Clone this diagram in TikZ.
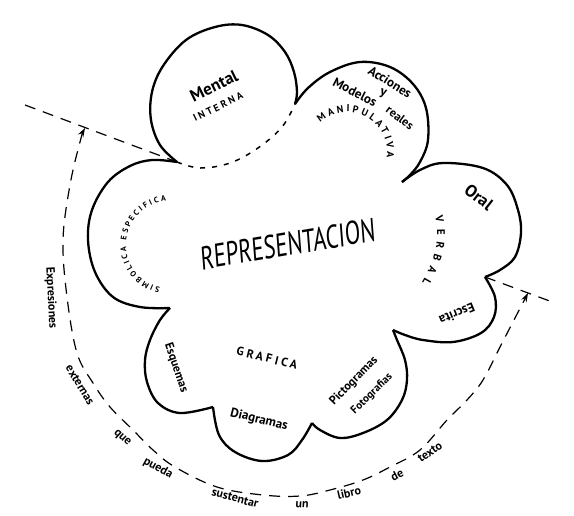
\documentclass[tikz,border=0pt]{standalone}
\usepackage{fontspec}
\setmainfont{PT Sans}
\usetikzlibrary{arrows.meta,decorations.text}
\begin{document}
\begin{tikzpicture}[x=1pt,y=-1pt,
    cloud/.style={line width=2.3pt,line join=round},
    hidden/.style={line width=1.5pt,dash pattern=on 5pt off 7pt},
    guide/.style={line width=1.2pt,dash pattern=on 11pt off 8pt},
    word/.style={inner sep=0pt,font=\fontsize{#1}{#1}\selectfont\bfseries},
    word/.default=13,
    caps/.style={inner sep=0pt,font=\fontsize{#1}{#1}\selectfont\bfseries\addfontfeature{LetterSpace=25}},
    bent/.style={decorate,decoration={text along path,text align={fit to path},text={#1}}}]
  \useasboundingbox (0,0) rectangle (574,515);
  \coordinate (c1) at (177,162);
  \coordinate (c2) at (295,104);
  \coordinate (c3) at (402,182);
  \coordinate (c4) at (485,277);
  \coordinate (c5) at (393,330);
  \coordinate (c6) at (312,423);
  \coordinate (c7) at (213,407);
  \coordinate (c8) at (170,308);
  \coordinate (endL) at (25,105);
  \coordinate (endR) at (555,303);
  \coordinate (tipL) at (85,128);
  \coordinate (tipR) at (528,293);
  \begin{scope}[cloud]
    \draw plot[smooth,tension=0.6] coordinates {(c1) (160,145) (151,120) (152,92) (163,66) (186,40) (215,27) (242,25) (268,35) (285,52) (294,72) (297,92) (c2)};
    \draw plot[smooth,tension=0.6] coordinates {(c2) (308,88) (330,72) (360,62) (390,67) (413,84) (426,108) (428,140) (420,162) (410,175) (c3)};
    \draw plot[smooth,tension=0.6] coordinates {(c3) (420,170) (443,163) (483,168) (507,185) (518,210) (521,233) (515,257) (500,270) (c4)};
    \draw plot[smooth,tension=0.6] coordinates {(c4) (495,297) (494,317) (481,333) (453,342) (423,340) (405,335) (c5)};
    \draw plot[smooth,tension=0.6] coordinates {(c5) (397,340) (405,360) (407,380) (402,400) (387,420) (363,433) (340,438) (320,430) (c6)};
    \draw plot[smooth,tension=0.6] coordinates {(c6) (302,440) (288,455) (262,461) (235,452) (219,435) (c7)};
    \draw plot[smooth,tension=0.6] coordinates {(c7) (180,413) (158,403) (147,382) (145,360) (150,340) (160,320) (c8)};
    \draw plot[smooth,tension=0.6] coordinates {(c8) (140,307) (113,297) (95,272) (88,240) (92,210) (108,182) (130,166) (152,160) (c1)};
  \end{scope}
  \draw[hidden] plot[smooth,tension=0.6] coordinates {(c1) (200,168) (230,163) (258,148) (282,127) (c2)};
  \draw[guide] (endL) -- (c1);
  \draw[guide] (c4) -- (endR);
  \draw[guide,{Stealth[length=9pt,width=6pt]}-{Stealth[length=9pt,width=6pt]}] plot[smooth,tension=0.6] coordinates {(tipL) (80,142) (70,185) (63,240) (67,297) (77,353) (93,383) (110,407) (133,430) (153,450) (175,467) (217,487) (263,495) (300,496) (330,490) (363,480) (390,467) (420,450) (447,420) (467,400) (483,380) (500,347) (515,318) (tipR)};
  \node[inner sep=0pt,font=\fontsize{33}{33}\selectfont,xscale=0.68,rotate=6.5] (repr) at (288,244) {REPRESENTACION};
  \node[word=17,rotate=26] (mental) at (214,86) {Mental};
  \node[caps=10,rotate=26] (interna) at (218,107) {INTERNA};
  \node[word,rotate=-32] (acciones) at (390,82) {Acciones};
  \node[word,rotate=-20] (y) at (383,94) {y};
  \node[word,rotate=-27] (modelos) at (355,92) {Modelos};
  \node[word=12,rotate=-37] (reales) at (400,118) {reales};
  \path[bent={|\fontsize{10}{10}\selectfont\bfseries|MANIPULATIVA}] (347,152) ++(228:40) arc (228:368:40);
  \node[word=17,rotate=-38] (oral) at (479,197) {Oral};
  \path[bent={|\fontsize{11}{11}\selectfont\bfseries|VERBAL}] (435,217) .. controls (441,240) and (434,262) .. (422,282);
  \node[word,rotate=-158] (escrita) at (457,314) {Escrita};
  \node[word=12,rotate=46] (picto) at (354,381) {Pictogramas};
  \node[word=11,rotate=44] (foto) at (372,394) {Fotografias};
  \node[word,rotate=-14] (diagramas) at (259,420) {Diagramas};
  \node[caps=12,rotate=-14] (grafica) at (267,358) {GRAFICA};
  \node[word=12,rotate=-71] (esquemas) at (176,368) {Esquemas};
  \path[bent={|\fontsize{8}{8}\selectfont\bfseries|SIMBOLICA ESPECIFICA}] (170,245) ++(103:44) arc (103:265:44);
  \begin{scope}[every node/.style={word=12}]
    \node[rotate=-87] (expresiones) at (51,298) {Expresiones};
    \node[rotate=-59] (externas) at (80,385) {externas};
    \node[rotate=-42] (que) at (122,438) {que};
    \node[rotate=-29] (pueda) at (158,468) {pueda};
    \node[rotate=-15] (sustentar) at (235,498) {sustentar};
    \node[rotate=-4] (un) at (302,505) {un};
    \node[rotate=13] (libro) at (349,493) {libro};
    \node[rotate=28] (de) at (397,475) {de};
    \node[rotate=35] (texto) at (430,452) {texto};
  \end{scope}
\end{tikzpicture}
\end{document}
